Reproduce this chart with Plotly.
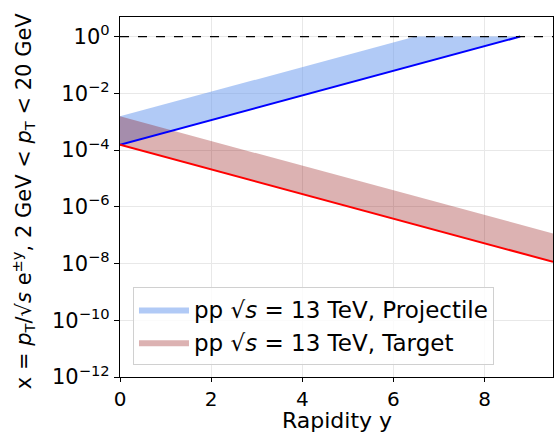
import plotly.graph_objects as go

# Rapidity endpoints and x values (boundaries are straight in log-x)
y_proj_low = [0.0, 8.78]
x_proj_low = [1.54e-4, 1.0]
y_proj_high = [0.0, 6.48]
x_proj_high = [1.54e-3, 1.0]
y_targ = [0.0, 9.5]
x_targ_low = [1.54e-4, 1.15e-8]
x_targ_high = [1.54e-3, 1.15e-7]
y_unity = [0.0, 9.5]
x_unity = [1.0, 1.0]

x_ticks = [0, 2, 4, 6, 8]
y_tick_exps = [0, -2, -4, -6, -8, -10, -12]

legend_proj = "pp √<i>s</i> = 13 TeV, Projectile"
legend_targ = "pp √<i>s</i> = 13 TeV, Target"

FONT = "DejaVu Sans"
fig = go.Figure()

# Projectile band
fig.add_trace(go.Scatter(
    x=y_proj_high + y_proj_low[::-1],
    y=x_proj_high + x_proj_low[::-1],
    fill="toself", mode="lines", line=dict(width=0),
    fillcolor="rgba(100,149,237,0.5)", name=legend_proj, hoverinfo="skip"))
# Target band
fig.add_trace(go.Scatter(
    x=y_targ + y_targ[::-1],
    y=x_targ_high + x_targ_low[::-1],
    fill="toself", mode="lines", line=dict(width=0),
    fillcolor="rgba(139,0,0,0.3)", name=legend_targ, hoverinfo="skip"))
# Lines
fig.add_trace(go.Scatter(x=y_proj_low, y=x_proj_low, mode="lines",
                         line=dict(color="blue", width=2), showlegend=False))
fig.add_trace(go.Scatter(x=y_targ, y=x_targ_low, mode="lines",
                         line=dict(color="red", width=2), showlegend=False))
fig.add_trace(go.Scatter(x=y_unity, y=x_unity, mode="lines",
                         line=dict(color="black", width=1.3, dash="dash"), showlegend=False))

fig.update_layout(
    width=558, height=434,
    margin=dict(l=120, r=5, t=17, b=57),
    paper_bgcolor="white", plot_bgcolor="white",
    font=dict(family=FONT, size=20, color="black"),
    legend=dict(x=0.03, y=0.25, xanchor="left", yanchor="top",
                bgcolor="rgba(255,255,255,0.8)", bordercolor="#d0d0d0", borderwidth=1,
                font=dict(size=23, family=FONT), itemwidth=50,
                tracegroupgap=0),
    xaxis=dict(range=[0, 9.5], tickvals=x_ticks, ticks="outside", ticklen=4,
               tickcolor="black", showline=True, linecolor="black", linewidth=1.2,
               mirror=True, showgrid=True, gridcolor="#e8e8e8", zeroline=False,
               tickfont=dict(size=20), automargin=False),
    yaxis=dict(type="log", range=[-12, 0.69],
               tickvals=[10.0 ** e for e in y_tick_exps],
               ticktext=["10<sup>%s</sup>" % (str(e).replace("-", "−")) for e in y_tick_exps],
               ticks="outside", ticklen=5, tickcolor="black",
               showline=True, linecolor="black", linewidth=1.2, mirror=True,
               showgrid=True, gridcolor="#e8e8e8", zeroline=False,
               tickfont=dict(size=21), automargin=False),
    showlegend=True,
)

fig.add_annotation(
    text="Rapidity y", xref="paper", yref="paper", x=0.5, y=-0.158,
    xanchor="center", yanchor="bottom", showarrow=False, borderpad=0,
    font=dict(size=22, family=FONT, color="black"))

fig.add_annotation(
    text="x = <i>p</i><sub>T</sub>/√<i>s</i> e<sup>±y</sup>, 2 GeV &lt; <i>p</i><sub>T</sub> &lt; 20 GeV",
    textangle=-90, xref="paper", yref="paper", x=-0.225, y=0.49,
    xanchor="center", yanchor="middle", showarrow=False,
    font=dict(size=21, family=FONT, color="black"))

fig.write_html("out.html")
